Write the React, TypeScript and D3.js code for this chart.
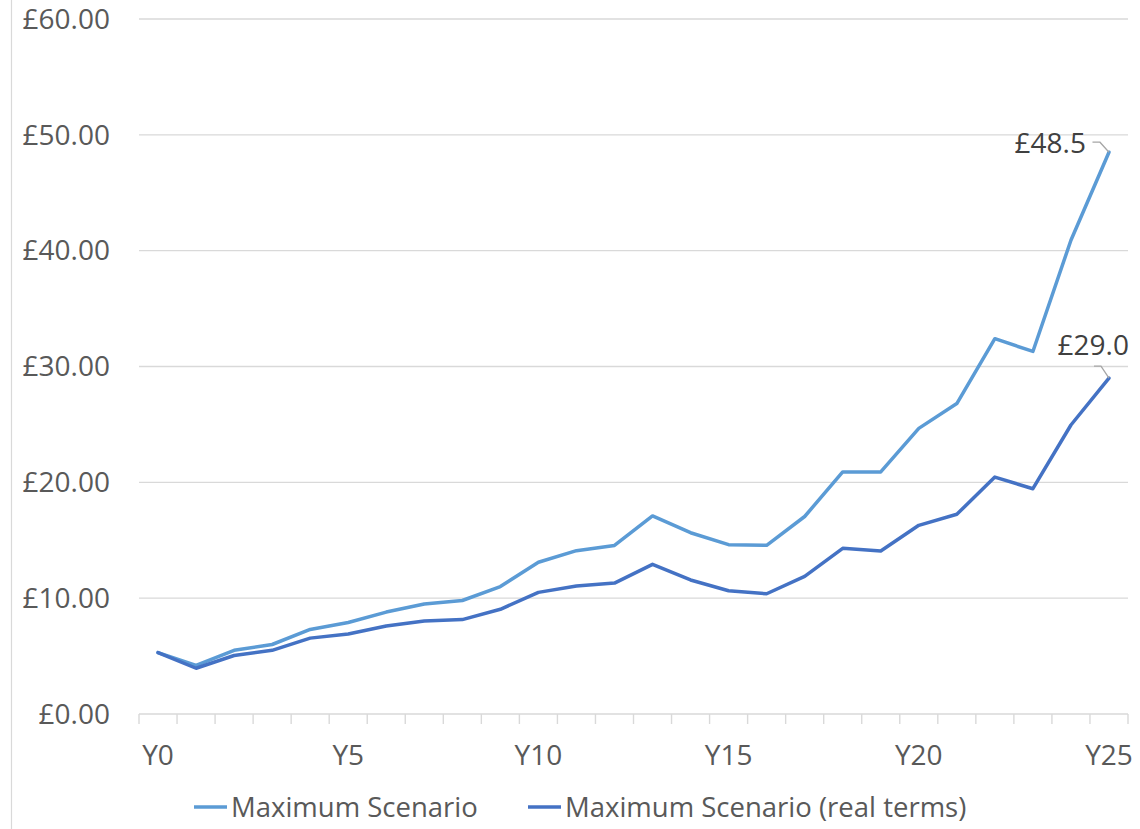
import React from "react";
import * as d3 from "d3";

const categories = Array.from({ length: 26 }, (_, i) => `Y${i}`);
const maximumScenario = [5.3, 4.2, 5.5, 6.0, 7.3, 7.9, 8.8, 9.5, 9.8, 11.0, 13.1, 14.1, 14.55, 17.1, 15.65, 14.62, 14.56, 17.05, 20.9, 20.9, 24.66, 26.8, 32.4, 31.3, 40.9, 48.5];
const maximumReal = [5.3, 3.95, 5.05, 5.5, 6.55, 6.9, 7.6, 8.03, 8.15, 9.04, 10.5, 11.05, 11.3, 12.92, 11.57, 10.64, 10.38, 11.88, 14.3, 14.07, 16.29, 17.24, 20.45, 19.45, 24.95, 29.0];
const yTicks = [0, 10, 20, 30, 40, 50, 60];
const seriesNames = ["Maximum Scenario", "Maximum Scenario (real terms)"];
const seriesColors = ["#5B9BD5", "#4472C4"];

const FONT = "'Open Sans', 'Liberation Sans', sans-serif";

export default function App() {
  const W = 1140, H = 829;
  const plotLeft = 139, plotRight = 1128, plotTop = 19, plotBottom = 714;
  const x = d3.scaleBand<string>().domain(categories).range([plotLeft, plotRight]).padding(0);
  const bw = x.bandwidth();
  const cx = (c: string) => (x(c) as number) + bw / 2;
  const y = d3.scaleLinear().domain([0, 60]).range([plotBottom, plotTop]);
  const line = d3.line<number>().x((_, i) => cx(categories[i])).y((d) => y(d));
  const series = [maximumScenario, maximumReal];
  const fmtTick = (v: number) => `£${v.toFixed(2)}`;
  const fmtLabel = (v: number) => `£${v.toFixed(1)}`;

  const last = categories.length - 1;
  const lpx = cx(categories[last]);
  const l1y = y(maximumScenario[last]);
  const l2y = y(maximumReal[last]);

  return (
    <svg width={W} height={H} style={{ position: "absolute", left: 0, top: 0, background: "#fff" }} fontFamily={FONT}>
      <rect x={0} y={0} width={W} height={H} fill="#fff" />
      <line x1={11.5} x2={11.5} y1={0} y2={H} stroke="#d9d9d9" strokeWidth={1.2} />
      {yTicks.map((t) => (
        <g key={t}>
          {t !== 0 && <line x1={plotLeft} x2={plotRight} y1={y(t)} y2={y(t)} stroke="#d9d9d9" strokeWidth={1.4} />}
          <text x={110} y={y(t)} dy="0.35em" textAnchor="end" fontSize={28} fill="#595959">{fmtTick(t)}</text>
        </g>
      ))}
      <line x1={plotLeft} x2={plotRight} y1={plotBottom} y2={plotBottom} stroke="#d9d9d9" strokeWidth={1.4} />
      {categories.concat(["end"]).map((c, i) => {
        const tx = plotLeft + i * bw;
        return <line key={"t" + i} x1={tx} x2={tx} y1={plotBottom} y2={plotBottom + 10} stroke="#d9d9d9" strokeWidth={1.4} />;
      })}
      {categories.map((c, i) =>
        i % 5 === 0 ? (
          <text key={c} x={cx(c)} y={765} textAnchor="middle" fontSize={28} fill="#595959">{c}</text>
        ) : null
      )}
      {series.map((s, k) => (
        <path key={k} d={line(s) as string} fill="none" stroke={seriesColors[k]} strokeWidth={3.5} strokeLinejoin="round" strokeLinecap="round" />
      ))}
      {/* data labels */}
      <polyline points={`${lpx - 16.5},${l1y - 10} ${lpx - 9},${l1y - 10} ${lpx},${l1y}`} fill="none" stroke="#a6a6a6" strokeWidth={1.3} />
      <text x={lpx - 23} y={l1y + 1} textAnchor="end" fontSize={28} fill="#404040">{fmtLabel(maximumScenario[last])}</text>
      <polyline points={`${lpx - 15},${l2y - 12} ${lpx - 8},${l2y - 12} ${lpx},${l2y}`} fill="none" stroke="#a6a6a6" strokeWidth={1.3} />
      <text x={lpx + 20} y={l2y - 23} textAnchor="end" fontSize={28} fill="#404040">{fmtLabel(maximumReal[last])}</text>
      {/* legend */}
      {[194, 528].map((lx, k) => (
        <g key={"lg" + k}>
          <line x1={lx} x2={lx + 33} y1={807} y2={807} stroke={seriesColors[k]} strokeWidth={3.5} />
          <text x={lx + 37} y={817} fontSize={27.5} fill="#595959">{seriesNames[k]}</text>
        </g>
      ))}
    </svg>
  );
}
